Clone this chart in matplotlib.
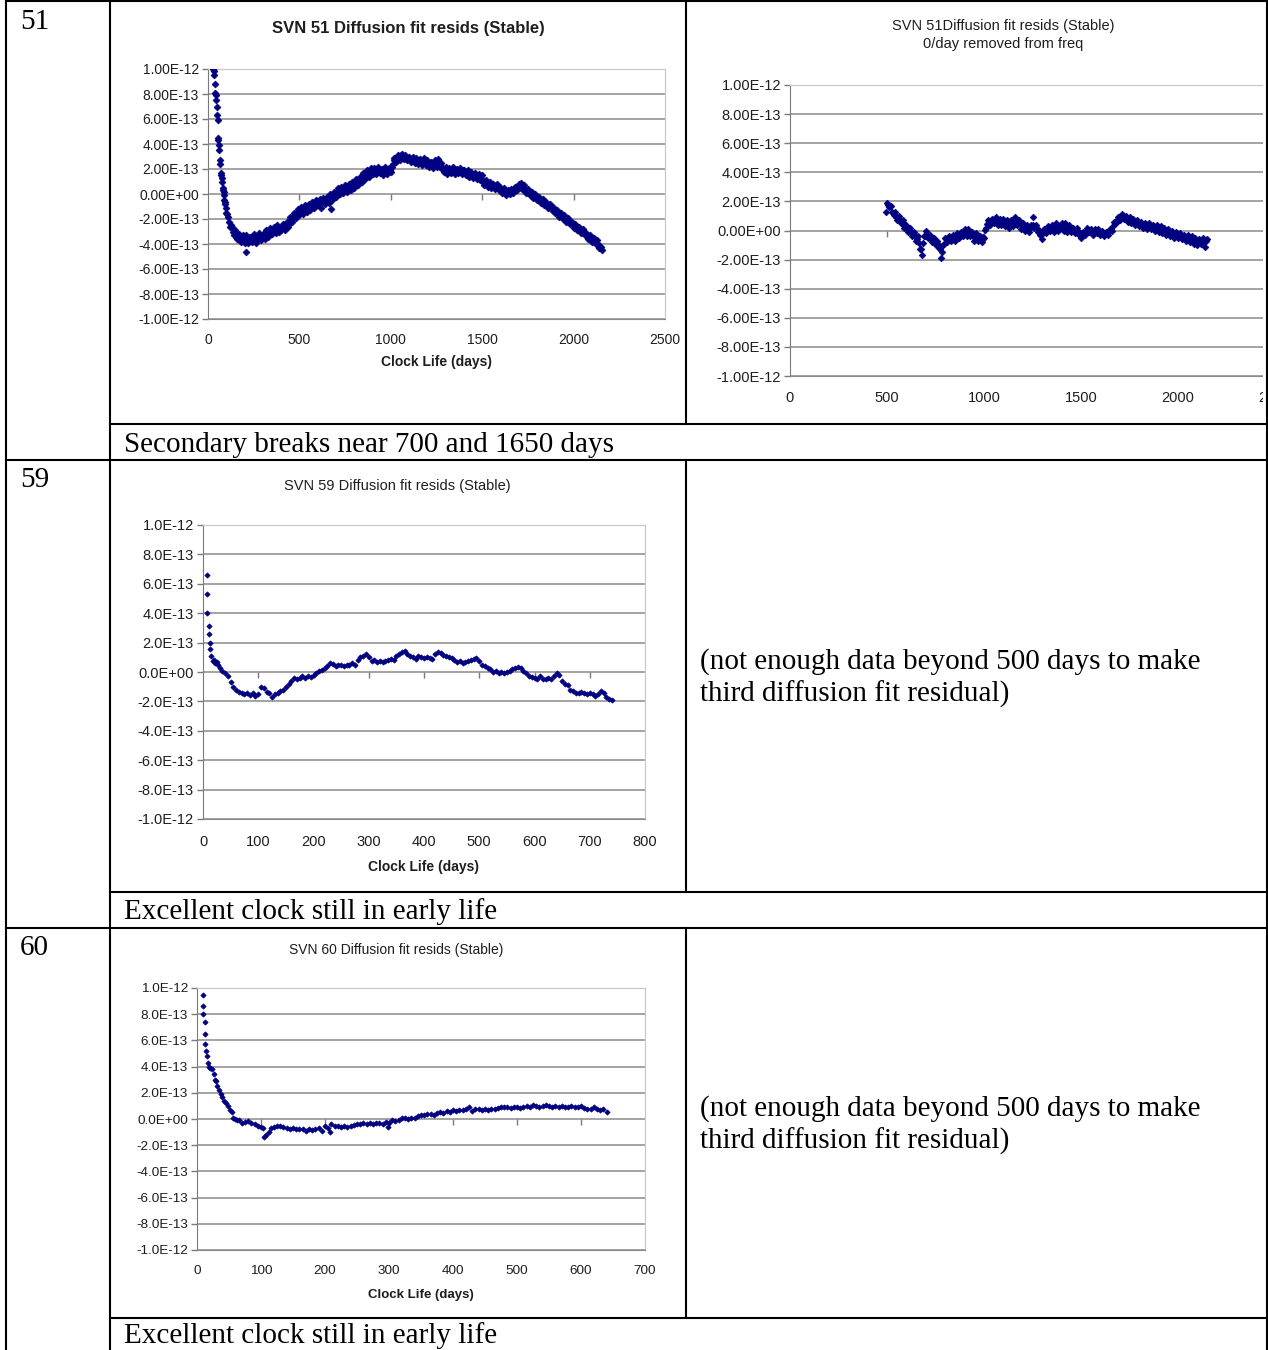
import matplotlib
matplotlib.use("Agg")
import matplotlib.pyplot as plt
from matplotlib.lines import Line2D
from matplotlib.patches import Rectangle

# ---- data (residuals in units of 1e-13, days of clock life) ----
d51 = [30, 35, 40, 45, 50, 55, 60, 65, 70, 75, 80, 85, 90, 95, 100,
       110, 120, 130, 140, 150, 160, 170, 180, 190, 200, 207,
       210, 220, 230, 240, 250, 260, 270, 280, 290, 300,
       310, 320, 330, 340, 350, 360, 370, 380, 390, 400,
       410, 420, 430, 440, 450, 460, 470, 480, 490, 500,
       510, 520, 530, 540, 550, 560, 570, 580, 590, 600,
       610, 620, 630, 640, 650, 660, 670, 680, 690, 700,
       710, 720, 730, 740, 750, 760, 770, 780, 790, 800,
       810, 820, 830, 840, 850, 860, 870, 880, 890, 900,
       910, 920, 930, 940, 950, 960, 970, 980, 990, 1000,
       1010, 1020, 1030, 1040, 1050, 1060, 1070, 1080, 1090, 1100,
       1110, 1120, 1130, 1140, 1150, 1160, 1170, 1180, 1190, 1200,
       1210, 1220, 1230, 1240, 1250, 1260, 1270, 1280, 1290, 1300,
       1310, 1320, 1330, 1340, 1350, 1360, 1370, 1380, 1390, 1400,
       1410, 1420, 1430, 1440, 1450, 1460, 1470, 1480, 1490, 1500,
       1510, 1520, 1530, 1540, 1550, 1560, 1570, 1580, 1590, 1600,
       1610, 1620, 1630, 1640, 1650, 1660, 1670, 1680, 1690, 1700,
       1710, 1720, 1730, 1740, 1750, 1760, 1770, 1780, 1790, 1800,
       1810, 1820, 1830, 1840, 1850, 1860, 1870, 1880, 1890, 1900,
       1910, 1920, 1930, 1940, 1950, 1960, 1970, 1980, 1990, 2000,
       2010, 2020, 2030, 2040, 2050, 2060, 2070, 2080, 2090, 2100,
       2110, 2120, 2130, 2140, 2150, 2153]
r51 = [10.0, 9.5, 8.1, 7.5, 6.3, 4.5, 3.9, 2.7, 1.7, 1.3, 0.5, 0.2, -0.5, -0.8, -1.5,
       -1.8, -2.6, -2.6, -3.3, -2.9, -3.6, -3.2, -3.8, -3.3, -3.9, -4.6,
       -3.3, -3.9, -3.4, -3.8, -3.2, -3.9, -3.5, -3.1, -3.7, -3.2,
       -3.6, -2.9, -3.4, -2.7, -3.2, -2.6, -3.1, -2.5, -3.0, -2.9,
       -2.4, -2.9, -2.2, -2.6, -1.8, -2.2, -1.5, -1.9, -1.2, -1.7,
       -1.0, -1.6, -0.9, -1.4, -0.8, -1.3, -0.6, -1.1, -0.5, -0.9,
       -0.4, -1.1, -0.3, -0.8, -0.2, -0.7, 0.0, -0.5, 0.2, -0.2,
       0.5, 0.0, 0.6, 0.1, 0.7, 0.2, 0.8, 0.3, 1.0, 0.5,
       1.2, 0.7, 1.4, 1.0, 1.7, 1.2, 1.9, 1.4, 2.1, 1.6,
       2.1, 1.6, 2.2, 1.7, 2.0, 1.5, 2.2, 1.6, 2.1, 1.8,
       2.4, 2.9, 2.6, 3.1, 2.7, 3.2, 2.8, 3.1, 2.7, 3.0,
       2.6, 3.0, 2.5, 2.9, 2.4, 2.8, 2.3, 2.9, 2.3, 2.7,
       2.2, 2.6, 2.1, 2.7, 2.2, 2.8, 2.2, 2.0, 1.8, 2.2,
       1.6, 2.1, 1.7, 2.2, 1.6, 2.0, 1.7, 2.1, 1.6, 1.9,
       1.5, 1.9, 1.4, 1.8, 1.3, 1.7, 1.2, 1.6, 1.1, 1.5,
       0.7, 1.1, 0.6, 1.0, 0.5, 0.8, 0.4, 0.8, 0.3, 0.6,
       0.1, 0.5, -0.1, 0.3, 0.0, 0.4, 0.1, 0.6, 0.3, 0.8,
       0.9, 0.4, 0.7, 0.1, 0.4, -0.1, 0.2, -0.3, 0.0, -0.5,
       -0.2, -0.7, -0.4, -0.9, -0.6, -1.1, -0.8, -1.3, -1.0, -1.5,
       -1.3, -1.8, -1.5, -2.0, -1.7, -2.2, -1.9, -2.4, -2.2, -2.7,
       -2.4, -2.9, -2.6, -3.1, -2.8, -3.3, -3.1, -3.6, -3.3, -3.8,
       -3.5, -4.0, -3.7, -4.3, -4.2, -4.5]
# in-between samples near the middle of the band
d51m = [32, 37, 42, 47, 52, 57, 62, 67, 72, 77, 82, 87, 92, 97, 105,
        115, 125, 135, 145, 155, 165, 175, 185, 195, 205,
        215, 225, 235, 245, 255, 265, 275, 285, 295, 305,
        315, 325, 335, 345, 355, 365, 375, 385, 395, 405,
        415, 425, 435, 445, 455, 465, 475, 485, 495, 505,
        515, 525, 535, 545, 555, 565, 575, 585, 595, 605,
        615, 625, 635, 645, 655, 665, 675, 685, 695, 705,
        715, 725, 735, 745, 755, 765, 775, 785, 795, 805,
        815, 825, 835, 845, 855, 865, 875, 885, 895, 905,
        915, 925, 935, 945, 955, 965, 975, 985, 995, 1005,
        1015, 1025, 1035, 1045, 1055, 1065, 1075, 1085, 1095, 1105,
        1115, 1125, 1135, 1145, 1155, 1165, 1175, 1185, 1195, 1205,
        1215, 1225, 1235, 1245, 1255, 1265, 1275, 1285, 1295, 1305,
        1315, 1325, 1335, 1345, 1355, 1365, 1375, 1385, 1395, 1405,
        1415, 1425, 1435, 1445, 1455, 1465, 1475, 1485, 1495, 1505,
        1515, 1525, 1535, 1545, 1555, 1565, 1575, 1585, 1595, 1605,
        1615, 1625, 1635, 1645, 1655, 1665, 1675, 1685, 1695, 1705,
        1715, 1725, 1735, 1745, 1755, 1765, 1775, 1785, 1795, 1805,
        1815, 1825, 1835, 1845, 1855, 1865, 1875, 1885, 1895, 1905,
        1915, 1925, 1935, 1945, 1955, 1965, 1975, 1985, 1995, 2005,
        2015, 2025, 2035, 2045, 2055, 2065, 2075, 2085, 2095, 2105,
        2115, 2125, 2135, 2145]
r51m = [9.8, 8.8, 7.9, 7.0, 5.9, 4.3, 3.5, 2.4, 1.5, 1.0, 0.3, -0.1, -0.6, -1.1, -1.6,
        -2.2, -2.5, -3.0, -3.0, -3.4, -3.4, -3.6, -3.5, -3.7, -3.5,
        -3.6, -3.5, -3.7, -3.4, -3.6, -3.5, -3.6, -3.4, -3.4, -3.3,
        -3.2, -3.2, -3.0, -3.1, -2.9, -2.9, -2.8, -2.9, -2.7, -2.7,
        -2.7, -2.5, -2.5, -2.2, -2.1, -1.8, -1.8, -1.5, -1.5, -1.3,
        -1.3, -1.2, -1.2, -1.0, -1.1, -0.9, -0.9, -0.7, -0.8, -0.6,
        -0.7, -0.5, -0.6, -0.4, -0.5, -0.3, -1.2, -0.1, 0.0, 0.2,
        0.2, 0.4, 0.3, 0.5, 0.3, 0.5, 0.5, 0.7, 0.7, 0.9,
        1.0, 1.1, 1.3, 1.3, 1.5, 1.5, 1.7, 1.7, 1.8, 1.9,
        1.9, 1.8, 2.0, 1.8, 1.9, 1.8, 1.9, 1.8, 1.9, 2.2,
        2.7, 2.8, 3.0, 2.9, 3.1, 2.9, 3.0, 2.9, 2.9, 2.8,
        2.8, 2.7, 2.8, 2.6, 2.7, 2.6, 2.6, 2.5, 2.5, 2.4,
        2.4, 2.3, 2.4, 2.4, 2.5, 2.4, 2.5, 2.1, 2.0, 1.9,
        1.9, 1.8, 2.0, 1.8, 1.9, 1.8, 1.9, 1.8, 1.9, 1.7,
        1.7, 1.6, 1.6, 1.5, 1.5, 1.4, 1.4, 1.3, 1.3, 1.0,
        0.9, 0.8, 0.8, 0.7, 0.7, 0.6, 0.6, 0.5, 0.5, 0.3,
        0.3, 0.1, 0.1, 0.1, 0.2, 0.2, 0.4, 0.4, 0.6, 0.6,
        0.6, 0.4, 0.4, 0.2, 0.2, 0.0, 0.0, -0.2, -0.2, -0.4,
        -0.5, -0.5, -0.7, -0.7, -0.9, -0.9, -1.1, -1.1, -1.3, -1.4,
        -1.5, -1.7, -1.7, -1.9, -1.9, -2.1, -2.2, -2.3, -2.4, -2.5,
        -2.6, -2.8, -2.8, -3.0, -3.1, -3.2, -3.3, -3.4, -3.6, -3.6,
        -3.8, -3.8, -4.0, -4.2]

d51b = [493,
        500, 510, 520, 530, 540, 550, 560, 570, 580, 590,
        600, 610, 620, 630, 640, 650, 660, 670, 680, 690,
        700, 710, 720, 730, 740, 750, 760, 770, 780, 790,
        800, 810, 820, 830, 840, 850, 860, 870, 880, 890,
        900, 910, 920, 930, 940, 950, 960, 970, 980, 990,
        1000, 1010, 1020, 1030, 1040, 1050, 1060, 1070, 1080, 1090,
        1100, 1110, 1120, 1130, 1140, 1150, 1160, 1170, 1180, 1190,
        1200, 1210, 1220, 1230, 1240, 1250, 1260, 1270, 1280, 1290,
        1300, 1310, 1320, 1330, 1340, 1350, 1360, 1370, 1380, 1390,
        1400, 1410, 1420, 1430, 1440, 1450, 1460, 1470, 1480, 1490,
        1500, 1510, 1520, 1530, 1540, 1550, 1560, 1570, 1580, 1590,
        1600, 1610, 1620, 1630, 1640, 1650, 1660, 1670, 1680, 1690,
        1700, 1710, 1720, 1730, 1740, 1750, 1760, 1770, 1780, 1790,
        1800, 1810, 1820, 1830, 1840, 1850, 1860, 1870, 1880, 1890,
        1900, 1910, 1920, 1930, 1940, 1950, 1960, 1970, 1980, 1990,
        2000, 2010, 2020, 2030, 2040, 2050, 2060, 2070, 2080, 2090,
        2100, 2110, 2120, 2130, 2140, 2150]
r51b = [1.3,
        1.9, 1.6, 1.7, 1.2, 1.3, 0.7, 1.0, 0.5, 0.7, 0.2,
        0.4, -0.1, 0.2, -0.4, -0.1, -0.7, -0.4, -1.3, -1.7, -0.4,
        0.0, -0.5, -0.3, -0.8, -0.5, -1.0, -0.7, -1.2, -1.9, -1.0,
        -0.5, -0.8, -0.4, -0.7, -0.3, -0.7, -0.2, -0.5, -0.1, -0.4,
        0.1, -0.4, 0.1, -0.4, -0.1, -0.7, -0.2, -0.7, -0.4, -0.8,
        -0.5, 0.2, 0.7, 0.4, 0.8, 0.5, 0.9, 0.4, 0.8, 0.4,
        0.8, 0.3, 0.7, 0.2, 0.7, 0.3, 0.9, 0.4, 0.7, 0.1,
        0.5, 0.0, 0.4, -0.1, 0.4, 0.9, 0.2, 0.4, -0.1, -0.3,
        -0.6, 0.1, -0.2, 0.3, 0.0, 0.4, -0.1, 0.5, 0.0, 0.3,
        0.5, 0.0, 0.5, -0.1, 0.4, -0.1, 0.2, -0.2, 0.2, -0.3,
        -0.5, -0.1, -0.3, 0.2, -0.1, 0.1, -0.3, 0.1, -0.2, 0.1,
        -0.3, 0.0, -0.4, -0.1, -0.3, 0.1, 0.0, 0.6, 0.5, 0.9,
        0.7, 1.1, 0.8, 1.0, 0.6, 0.9, 0.5, 0.8, 0.4, 0.7,
        0.3, 0.6, 0.2, 0.5, 0.1, 0.5, 0.1, 0.4, 0.0, 0.4,
        -0.1, 0.3, -0.2, 0.2, -0.3, 0.1, -0.4, 0.0, -0.5, -0.1,
        -0.5, -0.2, -0.6, -0.3, -0.7, -0.3, -0.8, -0.4, -0.9, -0.5,
        -1.0, -0.6, -0.9, -0.5, -1.1, -0.6]
d51bm = [505, 515, 525, 535, 545, 555, 565, 575, 585, 595,
         605, 615, 625, 635, 645, 655, 665, 675, 685, 695,
         705, 715, 725, 735, 745, 755, 765, 775, 785, 795,
         805, 815, 825, 835, 845, 855, 865, 875, 885, 895,
         905, 915, 925, 935, 945, 955, 965, 975, 985, 995,
         1005, 1015, 1025, 1035, 1045, 1055, 1065, 1075, 1085, 1095,
         1105, 1115, 1125, 1135, 1145, 1155, 1165, 1175, 1185, 1195,
         1205, 1215, 1225, 1235, 1245, 1255, 1265, 1275, 1285, 1295,
         1305, 1315, 1325, 1335, 1345, 1355, 1365, 1375, 1385, 1395,
         1405, 1415, 1425, 1435, 1445, 1455, 1465, 1475, 1485, 1495,
         1505, 1515, 1525, 1535, 1545, 1555, 1565, 1575, 1585, 1595,
         1605, 1615, 1625, 1635, 1645, 1655, 1665, 1675, 1685, 1695,
         1705, 1715, 1725, 1735, 1745, 1755, 1765, 1775, 1785, 1795,
         1805, 1815, 1825, 1835, 1845, 1855, 1865, 1875, 1885, 1895,
         1905, 1915, 1925, 1935, 1945, 1955, 1965, 1975, 1985, 1995,
         2005, 2015, 2025, 2035, 2045, 2055, 2065, 2075, 2085, 2095,
         2105, 2115, 2125, 2135, 2145]
r51bm = [1.75, 1.65, 1.25, 1.05, 0.95, 0.85, 0.75, 0.6, 0.45, 0.3,
         0.15, 0.05, -0.1, -0.25, -0.4, -0.6, -0.85, -1.3, -0.85, -0.4,
         -0.25, -0.4, -0.55, -0.65, -0.75, -0.85, -0.95, -1.25, -1.5, -0.95,
         -0.6, -0.55, -0.55, -0.55, -0.55, -0.45, -0.35, -0.3, -0.25, -0.15,
         -0.15, -0.15, -0.15, -0.25, -0.4, -0.45, -0.45, -0.55, -0.6, -0.45,
         0.05, 0.45, 0.55, 0.6, 0.65, 0.7, 0.65, 0.65, 0.65, 0.6,
         0.55, 0.5, 0.45, 0.45, 0.5, 0.55, 0.6, 0.55, 0.45, 0.35,
         0.3, 0.25, 0.15, 0.15, 0.3, 0.4, 0.3, 0.15, -0.05, -0.25,
         -0.2, -0.05, 0.05, 0.15, 0.15, 0.15, 0.25, 0.25, 0.15, 0.2,
         0.25, 0.25, 0.2, 0.15, 0.15, 0.05, 0.05, 0.05, -0.05, -0.15,
         -0.25, -0.2, -0.05, 0.05, 0.0, -0.05, -0.05, -0.05, -0.05, -0.1,
         -0.1, -0.15, -0.2, -0.15, -0.05, 0.1, 0.3, 0.5, 0.7, 0.85,
         0.95, 1.0, 0.95, 0.85, 0.8, 0.75, 0.7, 0.65, 0.6, 0.55,
         0.5, 0.45, 0.4, 0.35, 0.3, 0.3, 0.3, 0.25, 0.2, 0.15,
         0.1, 0.05, 0.0, -0.05, -0.1, -0.15, -0.2, -0.25, -0.3, -0.3,
         -0.35, -0.4, -0.45, -0.5, -0.5, -0.55, -0.6, -0.65, -0.7, -0.75,
         -0.8, -0.75, -0.7, -0.75, -0.75]

d59 = [7, 7, 8, 10, 11, 12, 13, 15, 18, 20, 22, 25, 28,
       30, 35, 40, 45, 50, 55, 60, 65, 70, 75,
       80, 85, 90, 95, 100, 105, 110, 115, 120, 125,
       130, 135, 140, 145, 150, 155, 160, 165, 170, 175,
       180, 185, 190, 195, 200, 205, 210, 215, 220, 225,
       230, 235, 240, 245, 250, 255, 260, 265, 270, 275,
       280, 285, 290, 295, 300, 305, 310, 315, 320, 325,
       330, 335, 340, 345, 350, 355, 360, 365, 370, 375,
       380, 385, 390, 395, 400, 405, 410, 415, 420, 425,
       430, 435, 440, 445, 450, 455, 460, 465, 470, 475,
       480, 485, 490, 495, 500, 505, 510, 515, 520, 525,
       530, 535, 540, 545, 550, 555, 560, 565, 570, 575,
       580, 585, 590, 595, 600, 605, 610, 615, 620, 625,
       630, 635, 640, 645, 650, 655, 660, 665, 670, 675,
       680, 685, 690, 695, 700, 705, 710, 715, 720, 725,
       730, 735, 740]
r59 = [6.6, 5.3, 4.0, 3.1, 2.6, 2.0, 1.55, 1.1, 0.75, 0.8, 0.6, 0.65, 0.5,
       0.3, 0.1, -0.1, -0.3, -0.7, -1.0, -1.2, -1.35, -1.45, -1.5,
       -1.4, -1.55, -1.45, -1.6, -1.5, -1.0, -1.1, -1.35, -1.45, -1.7,
       -1.5, -1.4, -1.3, -1.2, -1.0, -0.8, -0.6, -0.4, -0.5, -0.4,
       -0.3, -0.4, -0.3, -0.35, -0.2, -0.1, 0.1, 0.15, 0.3, 0.4,
       0.6, 0.55, 0.4, 0.5, 0.45, 0.4, 0.5, 0.45, 0.6, 0.5,
       0.8, 1.0, 1.1, 1.25, 1.0, 0.75, 0.85, 0.7, 0.75, 0.7,
       0.75, 0.8, 0.9, 0.85, 1.1, 1.2, 1.35, 1.45, 1.2, 1.1,
       1.0, 0.9, 1.1, 1.0, 0.95, 1.05, 0.95, 0.9, 1.2, 1.35,
       1.3, 1.15, 1.1, 1.0, 0.95, 0.8, 0.7, 0.75, 0.6, 0.7,
       0.75, 0.8, 0.9, 0.95, 0.75, 0.5, 0.4, 0.3, 0.2, 0.0,
       0.1, -0.1, 0.0, -0.05, 0.0, 0.05, 0.2, 0.3, 0.35, 0.25,
       0.1, -0.1, -0.3, -0.35, -0.4, -0.45, -0.3, -0.5, -0.45, -0.4,
       -0.5, -0.3, -0.05, -0.2, -0.6, -0.8, -0.9, -1.2, -1.3, -1.4,
       -1.45, -1.35, -1.4, -1.5, -1.4, -1.5, -1.6, -1.5, -1.3, -1.45,
       -1.7, -1.85, -1.9]

d60 = [9, 10, 10, 12, 12, 13, 14, 16, 17, 19, 21, 24, 26, 28, 30, 32, 34, 37, 39,
       42, 45, 48, 51, 54, 57, 60, 63,
       65, 70, 75, 80, 85, 90, 95, 100, 103, 105,
       108, 112, 115, 120, 125, 130, 135, 140, 145, 150,
       155, 160, 165, 170, 175, 180, 185, 190, 195, 200,
       205, 208, 210, 215, 220, 225, 230, 235, 240, 245,
       250, 255, 260, 265, 270, 275, 280, 285, 290, 295,
       298, 300, 305, 310, 315, 320, 325, 330, 335, 340,
       345, 350, 355, 360, 365, 370, 375, 380, 385, 390,
       395, 400, 405, 410, 415, 420, 425, 430, 435, 440,
       445, 450, 455, 460, 465, 470, 475, 480, 485, 490,
       495, 500, 505, 510, 515, 520, 525, 530, 535, 540,
       545, 550, 555, 560, 565, 570, 575, 580, 585, 590,
       595, 600, 605, 610, 615, 620, 625, 630, 635, 640]
r60 = [9.5, 8.6, 8.0, 7.4, 6.5, 5.7, 5.2, 4.8, 4.3, 4.0, 3.9, 3.8, 3.4, 3.0, 2.9, 2.5, 2.2, 1.9, 1.7,
       1.4, 1.2, 1.0, 0.7, 0.5, 0.1, 0.0, -0.1,
       -0.1, -0.3, -0.2, -0.15, -0.3, -0.4, -0.5, -0.6, -0.7, -1.35,
       -1.2, -1.0, -0.7, -0.6, -0.5, -0.55, -0.6, -0.7, -0.75, -0.7,
       -0.8, -0.75, -0.8, -0.9, -0.8, -0.85, -0.8, -0.7, -0.9, -0.5,
       -0.7, -1.0, -0.4, -0.5, -0.55, -0.6, -0.55, -0.6, -0.5, -0.45,
       -0.4, -0.35, -0.3, -0.35, -0.3, -0.35, -0.3, -0.3, -0.35, -0.2,
       -0.6, -0.3, -0.1, -0.15, -0.05, 0.1, 0.05, 0.0, 0.1, 0.05,
       0.2, 0.3, 0.3, 0.35, 0.4, 0.3, 0.45, 0.5, 0.45, 0.6,
       0.55, 0.7, 0.6, 0.65, 0.7, 0.75, 0.9, 0.6, 0.8, 0.75,
       0.7, 0.75, 0.7, 0.8, 0.75, 0.85, 0.9, 0.95, 0.9, 0.85,
       0.95, 0.9, 0.85, 0.95, 1.0, 0.9, 1.1, 1.0, 0.95, 1.0,
       1.05, 1.0, 0.95, 1.0, 0.9, 1.0, 0.95, 0.9, 1.0, 0.95,
       0.9, 1.0, 0.85, 0.75, 0.8, 0.9, 0.75, 0.7, 0.8, 0.55]

Y_POS = [-10, -8, -6, -4, -2, 0, 2, 4, 6, 8, 10]
Y_LAB2 = ["-1.00E-12", "-8.00E-13", "-6.00E-13", "-4.00E-13", "-2.00E-13", "0.00E+00",
          "2.00E-13", "4.00E-13", "6.00E-13", "8.00E-13", "1.00E-12"]
Y_LAB1 = ["-1.0E-12", "-8.0E-13", "-6.0E-13", "-4.0E-13", "-2.0E-13", "0.0E+00",
          "2.0E-13", "4.0E-13", "6.0E-13", "8.0E-13", "1.0E-12"]
X_2500 = [0, 500, 1000, 1500, 2000, 2500]
X_800 = [0, 100, 200, 300, 400, 500, 600, 700, 800]
X_700 = [0, 100, 200, 300, 400, 500, 600, 700]

# ---- style ----
NAVY = "#000080"; TXT = "#1e1e1e"; GRID = "#8a8a8a"; AXC = "#7a7a7a"; BORD = "#c8c8c8"
plt.rcParams["font.family"] = ["Liberation Sans", "DejaVu Sans"]
SERIF = ["Liberation Serif", "DejaVu Serif"]

W, H = 1268, 1350
fig = plt.figure(figsize=(W / 100, H / 100), dpi=100)
fig.patch.set_facecolor("white")


def fx(x): return x / W
def fy(y): return 1 - y / H


def chart(l, t, r, b, series, xticks, ylabels, fs, ms, pad):
    ax = fig.add_axes([fx(l), fy(b), fx(r) - fx(l), fy(t) - fy(b)])
    ax.set_xlim(xticks[0], xticks[-1]); ax.set_ylim(-10, 10)
    ax.set_xticks(xticks); ax.set_xticklabels([str(v) for v in xticks])
    ax.set_yticks(Y_POS); ax.set_yticklabels(ylabels)
    ax.tick_params(axis="x", length=0, pad=pad, labelsize=fs, labelcolor=TXT)
    ax.tick_params(axis="y", length=4, width=1, color=AXC, pad=2.5, labelsize=fs, labelcolor=TXT)
    ax.grid(axis="y", color=GRID, lw=1.1)
    ax.grid(axis="x", visible=False)
    ax.set_axisbelow(True)
    for s in ["top", "right"]:
        ax.spines[s].set_color(BORD); ax.spines[s].set_linewidth(0.9)
    ax.spines["left"].set_color(AXC); ax.spines["bottom"].set_color(GRID)
    ax.plot(xticks[1:-1], [0] * (len(xticks) - 2), ls="none", marker=3, ms=4,
            mew=1, color=AXC, zorder=2)
    for days, vals in series:
        ax.plot(days, vals, ls="none", marker="D", ms=ms, color=NAVY, mec=NAVY,
                mew=0.5, zorder=3)
    return ax


def ftxt(x, y, s, **kw):
    fig.text(fx(x), fy(y), s, **kw)


# row 1, left: SVN 51
chart(208, 69, 665, 319, [(d51, r51), (d51m, r51m)], X_2500, Y_LAB2, 10, 3.5, 10)
ftxt(408, 28, "SVN 51 Diffusion fit resids (Stable)", ha="center", va="center",
     fontsize=12, fontweight="bold", color=TXT)
ftxt(436, 362, "Clock Life (days)", ha="center", va="center", fontsize=10,
     fontweight="bold", color=TXT)

# row 1, right: SVN 51 with drift removed
chart(790, 85, 1275, 376, [(d51b, r51b), (d51bm, r51bm)], X_2500, Y_LAB2, 10.5, 3.4, 11)
ftxt(1003, 26, "SVN 51Diffusion fit resids (Stable)", ha="center", va="center",
     fontsize=10.5, color=TXT)
ftxt(1003, 44, "0/day removed from freq", ha="center", va="center", fontsize=10.5, color=TXT)
fig.add_artist(Rectangle((fx(1263), fy(420)), fx(1268) - fx(1263), fy(50) - fy(420),
                         transform=fig.transFigure, facecolor="white", edgecolor="none", zorder=5))

# row 2: SVN 59
chart(203, 525, 645, 819, [(d59, r59)], X_800, Y_LAB1, 10.5, 2.7, 11.5)
ftxt(397, 486, "SVN 59 Diffusion fit resids (Stable)", ha="center", va="center",
     fontsize=10.5, color=TXT)
ftxt(424, 867, "Clock Life (days)", ha="center", va="center", fontsize=10,
     fontweight="bold", color=TXT)

# row 3: SVN 60
chart(197, 988, 645, 1250, [(d60, r60)], X_700, Y_LAB1, 9.7, 2.7, 11)
ftxt(396, 950, "SVN 60 Diffusion fit resids (Stable)", ha="center", va="center",
     fontsize=10, color=TXT)
ftxt(421, 1295, "Clock Life (days)", ha="center", va="center", fontsize=9.5,
     fontweight="bold", color=TXT)

# ---- table text ----
TFS = 21
ftxt(20, 29, "51", family=SERIF, fontsize=TFS, va="baseline")
ftxt(20, 487, "59", family=SERIF, fontsize=TFS, va="baseline")
ftxt(20, 955, "60", family=SERIF, fontsize=TFS, va="baseline")
ftxt(124, 452, "Secondary breaks near 700 and 1650 days", family=SERIF, fontsize=TFS, va="baseline")
ftxt(124, 919, "Excellent clock still in early life", family=SERIF, fontsize=TFS, va="baseline")
ftxt(124, 1343, "Excellent clock still in early life", family=SERIF, fontsize=TFS, va="baseline")
for y0 in (669, 1116):
    ftxt(700, y0, "(not enough data beyond 500 days to make", family=SERIF, fontsize=TFS, va="baseline")
    ftxt(700, y0 + 33, "third diffusion fit residual)", family=SERIF, fontsize=TFS, va="baseline")

# ---- table borders ----
def hline(y, x0, x1):
    fig.add_artist(Line2D([fx(x0), fx(x1)], [fy(y), fy(y)], color="black", lw=1.5, zorder=10))


def vline(x, y0, y1):
    fig.add_artist(Line2D([fx(x), fx(x)], [fy(y0), fy(y1)], color="black", lw=1.5, zorder=10))


hline(1, 6, 1268)
hline(424, 110, 1267)
hline(460, 6, 1267)
hline(892, 110, 1267)
hline(928, 6, 1267)
hline(1318, 110, 1267)
vline(6, 0, 1350)
vline(110, 0, 1350)
vline(1267, 0, 1350)
vline(686, 1, 424)
vline(686, 460, 892)
vline(686, 928, 1318)

fig.savefig("out.png", dpi=100, facecolor="white")
